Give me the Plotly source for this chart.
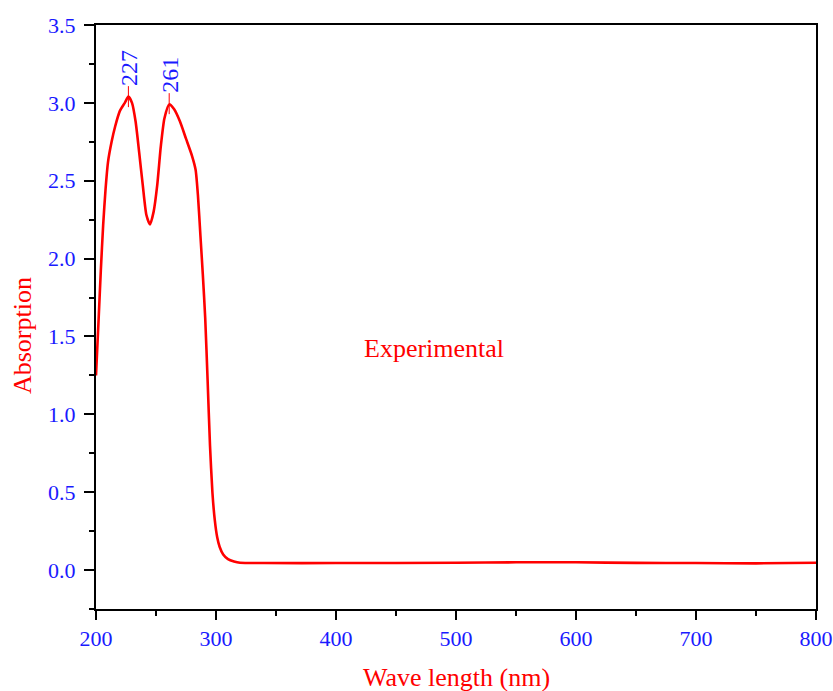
import plotly.graph_objects as go

wavelength = [200, 202, 204, 206, 208, 210, 213, 216, 220, 224, 227, 230, 233, 236, 239, 242, 245,
              248, 251, 254, 257, 261, 265, 270, 275, 280, 283, 285, 287, 289, 291, 293, 295, 297,
              299, 301, 303, 306, 310, 315, 320, 340, 400, 500, 550, 600, 650, 700, 750, 800]
absorption = [1.25, 1.58, 1.92, 2.22, 2.45, 2.62, 2.75, 2.85, 2.95, 3.00, 3.04, 3.00, 2.88, 2.68,
              2.47, 2.28, 2.22, 2.30, 2.47, 2.72, 2.90, 2.99, 2.96, 2.88, 2.77, 2.66, 2.57, 2.40,
              2.15, 1.90, 1.62, 1.22, 0.80, 0.50, 0.32, 0.21, 0.15, 0.10, 0.07, 0.055, 0.047,
              0.045, 0.045, 0.047, 0.050, 0.050, 0.046, 0.045, 0.043, 0.047]

peak_x = [227, 261]
peak_y = [3.04, 2.995]
peak_labels = ["227", "261"]

x_ticks = [200, 300, 400, 500, 600, 700, 800]
y_ticks = [0.0, 0.5, 1.0, 1.5, 2.0, 2.5, 3.0, 3.5]

SERIF = "Liberation Serif, Times New Roman, serif"
BLUE = "#1a1aff"
RED = "#ff0000"

fig = go.Figure()
fig.add_trace(go.Scatter(x=wavelength, y=absorption, mode="lines",
                         line=dict(color=RED, width=2.6, shape="spline", smoothing=0.6),
                         showlegend=False, hoverinfo="skip"))
fig.add_trace(go.Scatter(x=peak_x, y=peak_y, mode="markers",
                         marker=dict(symbol="line-ns", size=15, line=dict(color=RED, width=1)),
                         showlegend=False, hoverinfo="skip"))

annotations = []
for px, py, lab in zip(peak_x, peak_y, peak_labels):
    annotations.append(dict(x=px, y=py, xref="x", yref="y", text=lab, showarrow=False,
                            textangle=-90, yanchor="bottom", xanchor="center", yshift=9,
                            font=dict(family=SERIF, size=24, color=BLUE)))
annotations.append(dict(x=482, y=1.42, xref="x", yref="y", text="Experimental", showarrow=False,
                        font=dict(family=SERIF, size=26, color=RED)))
annotations.append(dict(x=0.5, y=-0.1165, xref="paper", yref="paper", text="Wave length (nm)",
                        showarrow=False, xanchor="center", yanchor="middle",
                        font=dict(family=SERIF, size=26, color=RED)))
annotations.append(dict(x=-0.1028, y=0.469, xref="paper", yref="paper", text="Absorption",
                        showarrow=False, xanchor="center", yanchor="middle", textangle=-90,
                        font=dict(family=SERIF, size=26, color=RED)))

fig.update_layout(
    width=833, height=691,
    margin=dict(l=96, r=17, t=25, b=82),
    paper_bgcolor="white", plot_bgcolor="white",
    annotations=annotations,
    xaxis=dict(range=[200, 800], tickvals=x_ticks, ticktext=[str(v) for v in x_ticks],
               automargin=False,
               showgrid=False, zeroline=False, showline=True, linecolor="black", linewidth=2,
               mirror=True, ticks="outside", ticklen=9, tickwidth=2, tickcolor="black",
               minor=dict(ticks="outside", ticklen=5, tickwidth=2, tickcolor="black", dtick=50),
               tickfont=dict(family=SERIF, size=22, color=BLUE)),
    yaxis=dict(range=[-0.25, 3.5], tickvals=y_ticks, ticktext=[f"{v:.1f}" for v in y_ticks],
               automargin=False,
               showgrid=False, zeroline=False, showline=True, linecolor="black", linewidth=2,
               mirror=True, ticks="outside", ticklen=10, tickwidth=2, tickcolor="black",
               minor=dict(ticks="outside", ticklen=5, tickwidth=2, tickcolor="black", dtick=0.25),
               tickfont=dict(family=SERIF, size=22, color=BLUE), ticklabelstandoff=4),
)

fig.write_html("out.html")
